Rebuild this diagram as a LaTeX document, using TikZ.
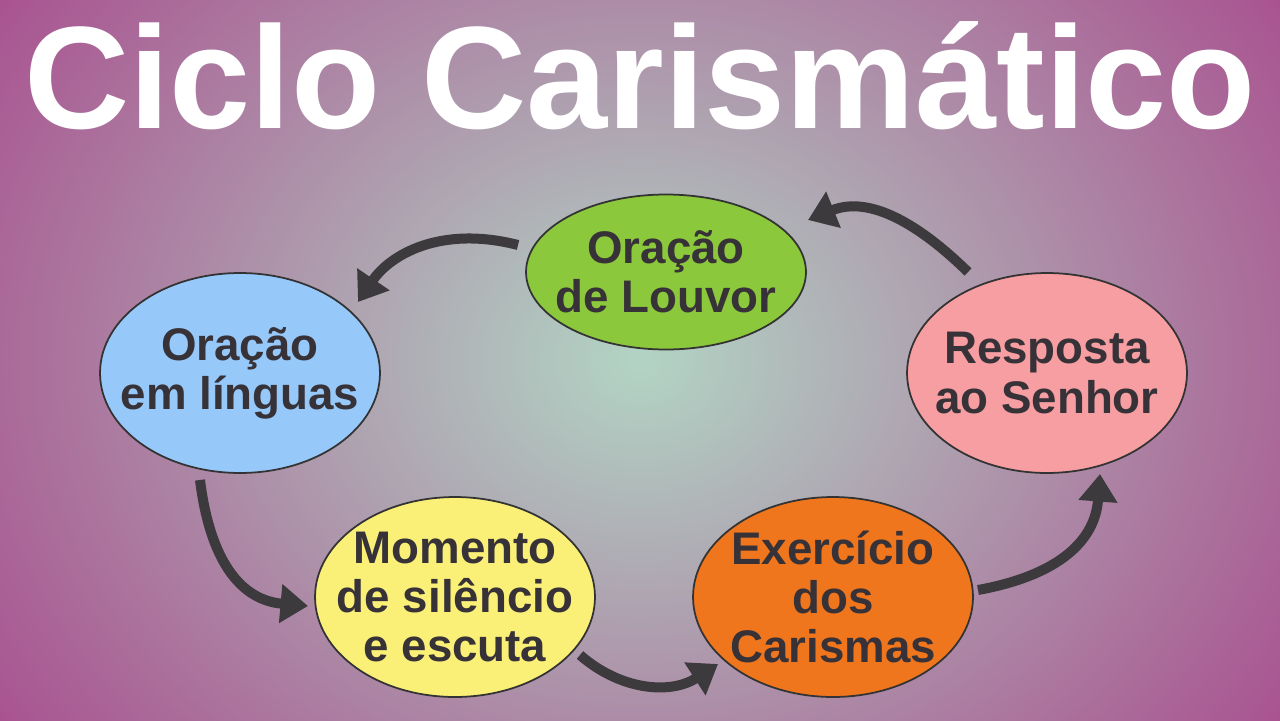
\documentclass[tikz,border=0pt]{standalone}
\usepackage{fontspec}
\setmainfont{Liberation Sans}
\usetikzlibrary{arrows.meta,shapes.geometric}
\definecolor{bgout}{RGB}{168,72,140}
\definecolor{bgin}{RGB}{178,212,196}
\definecolor{txt}{RGB}{55,50,55}
\definecolor{arr}{RGB}{60,58,60}
\definecolor{cgreen}{RGB}{140,200,60}
\definecolor{cblue}{RGB}{150,200,250}
\definecolor{cyellow}{RGB}{250,240,120}
\definecolor{corange}{RGB}{240,118,30}
\definecolor{cpink}{RGB}{247,158,162}
\tikzset{
  bubble/.style={ellipse, draw=black!80, line width=1pt, minimum width=5.6cm, minimum height=4cm, inner sep=0pt},
  lbl/.style={font=\fontsize{26}{28}\selectfont\bfseries, text=txt, align=center},
  flow/.style={draw=arr, line width=0.2cm, -{Triangle[length=0.55cm,width=0.75cm]}}
}
\begin{document}
\begin{tikzpicture}[x=0.02cm,y=-0.02cm]
\useasboundingbox (0,0) rectangle (1280,720);
\shade[outer color=bgout, inner color=bgin, shading=radial] (-200,-340) rectangle (1480,1060);
\node[text=white, font=\fontsize{83}{90}\selectfont\bfseries] (title) at (640,76) {Ciclo Carismático};
\node[bubble, fill=cgreen, minimum height=3.1cm] (louvor) at (666,272) {};
\node[bubble, fill=cblue] (linguas) at (240,373) {};
\node[bubble, fill=cyellow] (momento) at (455,597) {};
\node[bubble, fill=corange] (exerc) at (833,597) {};
\node[bubble, fill=cpink] (resp) at (1047,373) {};
\node[lbl] at (louvor) {Oração\\de Louvor};
\node[lbl] at (linguas) {Oração\\em línguas};
\node[lbl] at (momento) {Momento\\de silêncio\\e escuta};
\node[lbl] at (exerc) {Exercício\\dos\\Carismas};
\node[lbl] at (resp) {Resposta\\ao Senhor};
\coordinate (a1) at (518,245); \coordinate (b1) at (358,302);
\coordinate (a2) at (200,480); \coordinate (b2) at (308,606);
\coordinate (a3) at (580,655); \coordinate (b3) at (718,664);
\coordinate (a4) at (978,590); \coordinate (b4) at (1100,474);
\coordinate (a5) at (968,272); \coordinate (b5) at (808,220);
\draw[flow] (a1) .. controls (440,225) and (390,255) .. (b1);
\draw[flow] (a2) .. controls (210,560) and (240,600) .. (b2);
\draw[flow] (a3) .. controls (620,690) and (670,695) .. (b3);
\draw[flow] (a4) .. controls (1060,575) and (1095,540) .. (b4);
\draw[flow] (a5) .. controls (920,225) and (870,195) .. (b5);
\end{tikzpicture}
\end{document}
